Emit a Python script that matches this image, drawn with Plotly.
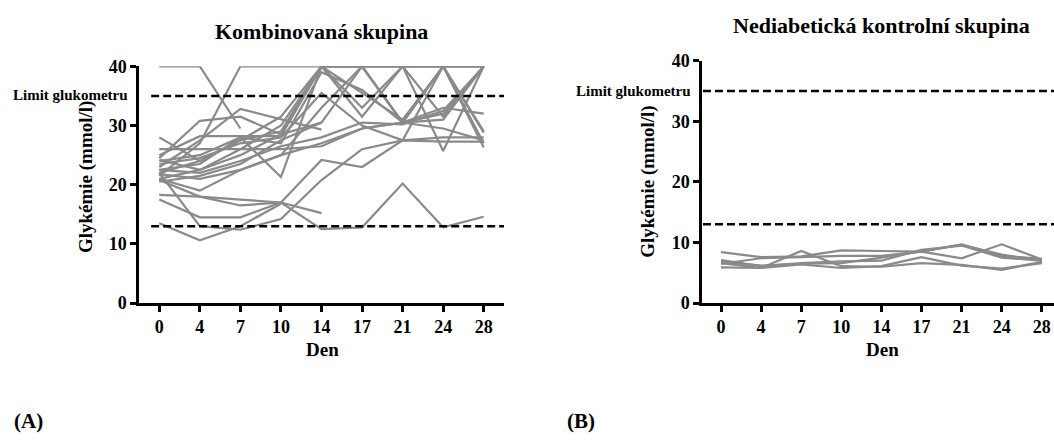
import plotly.graph_objects as go

# Days of measurement (shown as evenly spaced categories)
days = ["0", "4", "7", "10", "14", "17", "21", "24", "28"]

# Combined group: individual glycaemia profiles (mmol/l); None = no measurement
combined = [
    [40.0, 40.0, 29.5, None, None, None, None, None, None],
    [21.5, 27.0, 40.0, 40.0, 40.0, 40.0, 40.0, 40.0, 40.0],
    [24.5, 30.8, 31.5, 28.5, 30.5, None, None, None, None],
    [23.0, 27.5, 32.8, 31.0, 29.3, None, None, None, None],
    [28.0, 24.0, 27.5, 31.5, 40.0, 35.5, 31.0, 40.0, 27.0],
    [26.0, 26.0, 26.0, 26.0, 26.5, 29.5, 30.5, 32.0, 40.0],
    [25.0, 28.2, 28.2, 28.2, 40.0, 40.0, 30.5, 33.0, 32.0],
    [22.0, 24.0, 27.5, 29.0, 40.0, 33.0, 40.0, 40.0, 40.0],
    [22.5, 23.5, 28.0, 21.3, 40.0, 31.5, 40.0, 40.0, 26.3],
    [21.0, 22.5, 26.0, 30.0, 40.0, 40.0, 30.5, 40.0, 28.8],
    [24.0, 25.0, 28.0, 27.0, 39.0, 36.0, 30.5, 29.5, 27.5],
    [21.8, 21.0, 22.5, 25.0, 33.0, 40.0, 40.0, 25.7, 40.0],
    [23.5, 24.5, 27.0, 28.0, 35.5, 30.0, 27.5, 40.0, 40.0],
    [22.5, 22.0, 24.0, 26.5, 28.0, 30.5, 30.2, 32.5, 40.0],
    [21.0, 19.0, 22.5, 25.0, 27.0, 29.5, 30.5, 31.0, 40.0],
    [20.8, 18.0, 16.5, 17.0, 24.2, 23.0, 27.5, 27.3, 27.3],
    [18.3, 18.0, 17.5, 17.0, 15.2, None, None, None, None],
    [17.5, 14.5, 14.5, 17.0, 12.5, 12.8, 20.2, 12.8, 14.6],
    [13.5, 10.6, 13.0, 16.8, None, None, None, None, None],
    [22.0, 13.0, 12.4, 14.2, 20.8, 26.0, 27.5, 28.0, 28.0],
    [24.2, 22.5, 25.0, 28.5, 40.0, 40.0, 40.0, 31.5, 40.0],
    [20.5, 21.5, 23.5, 27.5, 30.5, 40.0, 30.5, 40.0, 29.0],
]

# Non-diabetic control group
control = [
    [8.4, 7.6, 7.7, 8.7, 8.6, 8.5, 9.7, 7.8, 7.3],
    [6.6, 5.8, 8.6, 6.1, 6.0, 6.6, 6.3, 5.5, 6.8],
    [7.1, 6.1, 6.6, 6.9, 7.0, 8.8, 9.5, 7.5, 7.0],
    [5.9, 5.8, 6.4, 5.8, 6.1, 7.6, 6.2, 5.7, 6.6],
    [6.5, 7.4, 7.6, 7.8, 7.8, 8.5, 7.4, 9.7, 7.2],
    [6.8, 6.2, 6.5, 6.6, 7.5, 8.6, 9.6, 8.0, 7.0],
]

# Reference levels: glucometer upper limit and lower threshold
meter_limit = 35
lower_limit = 13
y_ticks = [0, 10, 20, 30, 40]

W, H = 1054, 443
FONT = "Liberation Serif"
LINE = "#8a8a8a"


def px(x):
    return x / W


def py(y):
    return 1 - y / H


fig = go.Figure()
xpos = list(range(len(days)))

for series in combined:
    fig.add_trace(go.Scatter(x=xpos, y=series, mode="lines", xaxis="x", yaxis="y",
                             line=dict(color=LINE, width=2.2), connectgaps=False,
                             hoverinfo="skip", showlegend=False))
for series in control:
    fig.add_trace(go.Scatter(x=xpos, y=series, mode="lines", xaxis="x2", yaxis="y2",
                             line=dict(color=LINE, width=2.2),
                             hoverinfo="skip", showlegend=False))

tickfont = dict(family=FONT, size=18, color="black", weight="bold")
axis_common = dict(showline=True, linecolor="black", linewidth=2.5, ticks="outside",
                   ticklen=6, tickwidth=2.5, tickcolor="black", showgrid=False,
                   zeroline=False, tickfont=tickfont, fixedrange=True)

fig.update_layout(
    width=W, height=H, margin=dict(l=0, r=0, t=0, b=0),
    paper_bgcolor="white", plot_bgcolor="white",
    xaxis=dict(domain=[px(139), px(504)], range=[-0.5, 8.5], tickvals=xpos,
               ticktext=days, anchor="y", **axis_common),
    yaxis=dict(domain=[py(307), py(59)], range=[0, 40], tickvals=y_ticks,
               anchor="x", **axis_common),
    xaxis2=dict(domain=[px(702), 1.0], range=[-0.474, 8.304], tickvals=xpos,
                ticktext=days, anchor="y2", **axis_common),
    yaxis2=dict(domain=[py(307), py(53)], range=[0, 40], tickvals=y_ticks,
                anchor="x2", **axis_common),
)

dash = dict(color="black", width=2.5, dash="8px,4px")
for lvl in (meter_limit, lower_limit):
    fig.add_shape(type="line", xref="x", yref="y", x0=-0.2, x1=8.5, y0=lvl, y1=lvl,
                  line=dash, layer="above")
    fig.add_shape(type="line", xref="x2", yref="y2", x0=-0.45, x1=8.304, y0=lvl, y1=lvl,
                  line=dash, layer="above")


def text(x, y, s, size, xanchor="center", angle=0):
    fig.add_annotation(x=px(x), y=py(y), xref="paper", yref="paper", text=s,
                       showarrow=False, xanchor=xanchor, yanchor="middle",
                       textangle=angle,
                       font=dict(family=FONT, size=size, color="black", weight="bold"))


# Panel titles
text(321, 22, "Kombinovaná skupina", 22)
text(881, 16, "Nediabetická kontrolní skupina", 22)

# Axis titles
text(86, 175, "Glykémie (mmol/l)", 19, angle=-90)
text(648, 180, "Glykémie (mmol/l)", 19, angle=-90)
text(322, 356, "Den", 19)
text(882, 356, "Den", 19)

# Glucometer limit labels
text(130, 89, "Limit glukometru", 15, xanchor="right")
text(693, 85, "Limit glukometru", 15, xanchor="right")

# Panel letters
text(12, 430, "(A)", 21, xanchor="left")
text(565, 430, "(B)", 21, xanchor="left")

# Page without default body margin so the figure fills the window exactly
fig.write_html("out.html",
               post_script="document.body.style.margin='0';"
                           "document.body.style.overflow='hidden';")
